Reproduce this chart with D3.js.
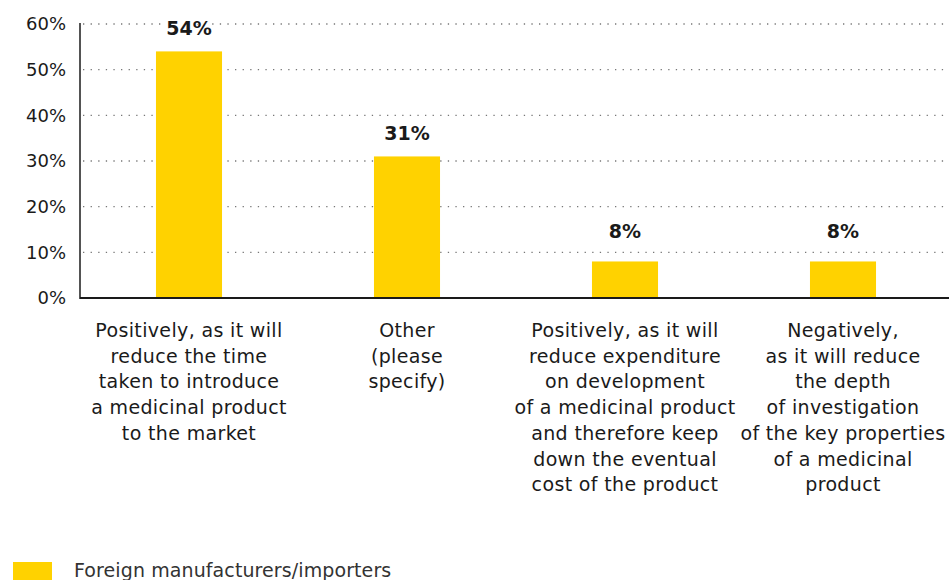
<!DOCTYPE html>
<html>
<head>
<meta charset="utf-8">
<script src="https://cdn.jsdelivr.net/npm/d3@7"></script>
<style>
  html, body { margin: 0; padding: 0; background: #fff; }
  svg { display: block; font-family: "DejaVu Sans", sans-serif; }
</style>
</head>
<body>
<svg id="chart" width="949" height="580"></svg>
<script>
// Survey answers (one line per array entry) and their shares
const categories = [
  ["Positively, as it will", "reduce the time", "taken to introduce", "a medicinal product", "to the market"],
  ["Other", "(please", "specify)"],
  ["Positively, as it will", "reduce expenditure", "on development", "of a medicinal product", "and therefore keep", "down the eventual", "cost of the product"],
  ["Negatively,", "as it will reduce", "the depth", "of investigation", "of the key properties", "of a medicinal", "product"]
];
const values = [54, 31, 8, 8];
const yTicks = [0, 10, 20, 30, 40, 50, 60];
const seriesName = "Foreign manufacturers/importers";

const yellow = "#FFD200";
const ink = "#1a1a1a";

const svg = d3.select("#chart");
const margin = { left: 80, top: 24, bottom: 298, right: 952 };

const x = d3.scaleBand()
  .domain(d3.range(categories.length))
  .range([margin.left, margin.right])
  .padding(0);

const y = d3.scaleLinear()
  .domain([0, 60])
  .range([margin.bottom, margin.top]);

const barW = x.bandwidth() * 0.303;

// dotted gridlines
svg.append("g")
  .selectAll("line")
  .data(yTicks.filter(d => d > 0))
  .join("line")
  .attr("x1", margin.left + 3)
  .attr("x2", 949)
  .attr("y1", d => y(d))
  .attr("y2", d => y(d))
  .attr("stroke", "#777")
  .attr("stroke-width", 1.3)
  .attr("stroke-dasharray", "1.3,6.3");

// y axis tick labels
const yAxis = d3.axisLeft(y)
  .tickValues(yTicks)
  .tickFormat(d => d + "%")
  .tickSize(0)
  .tickPadding(14);

const gy = svg.append("g")
  .attr("transform", `translate(${margin.left},0)`)
  .call(yAxis);
gy.select(".domain").remove();
gy.selectAll("text")
  .attr("font-size", 18)
  .attr("fill", ink)
  .attr("font-family", "DejaVu Sans, sans-serif");

// bars
svg.append("g")
  .selectAll("rect")
  .data(values)
  .join("rect")
  .attr("x", (d, i) => x(i) + x.bandwidth() / 2 - barW / 2)
  .attr("y", d => y(d))
  .attr("width", barW)
  .attr("height", d => y(0) - y(d))
  .attr("fill", yellow);

// axis lines
svg.append("line")
  .attr("x1", margin.left).attr("x2", margin.left)
  .attr("y1", margin.top - 1).attr("y2", margin.bottom + 1)
  .attr("stroke", ink).attr("stroke-width", 1.5);
svg.append("line")
  .attr("x1", margin.left).attr("x2", 949)
  .attr("y1", margin.bottom).attr("y2", margin.bottom)
  .attr("stroke", ink).attr("stroke-width", 1.8);

// value labels (short bars get a little extra headroom)
svg.append("g")
  .selectAll("text")
  .data(values)
  .join("text")
  .attr("x", (d, i) => x(i) + x.bandwidth() / 2)
  .attr("y", d => y(d) - (d < 10 ? 23 : 16))
  .attr("text-anchor", "middle")
  .attr("font-size", 19)
  .attr("font-weight", "bold")
  .attr("fill", ink)
  .attr("stroke", "#fff")
  .attr("stroke-width", 6)
  .attr("paint-order", "stroke")
  .text(d => d + "%");

// category labels
const catG = svg.append("g")
  .selectAll("text")
  .data(categories)
  .join("text")
  .attr("text-anchor", "middle")
  .attr("font-size", 19)
  .attr("letter-spacing", 0.35)
  .attr("fill", ink);
catG.selectAll("tspan")
  .data((d, i) => d.map(line => ({ line, i })))
  .join("tspan")
  .attr("x", d => x(d.i) + x.bandwidth() / 2)
  .attr("y", (d, j) => 337 + j * 25.7)
  .text(d => d.line);

// legend
const legend = svg.append("g");
legend.append("rect")
  .attr("x", 13).attr("y", 562)
  .attr("width", 39).attr("height", 18)
  .attr("fill", yellow);
legend.append("text")
  .attr("x", 74).attr("y", 577)
  .attr("font-size", 19)
  .attr("letter-spacing", 0.1)
  .attr("fill", "#333")
  .text(seriesName);
</script>
</body>
</html>
